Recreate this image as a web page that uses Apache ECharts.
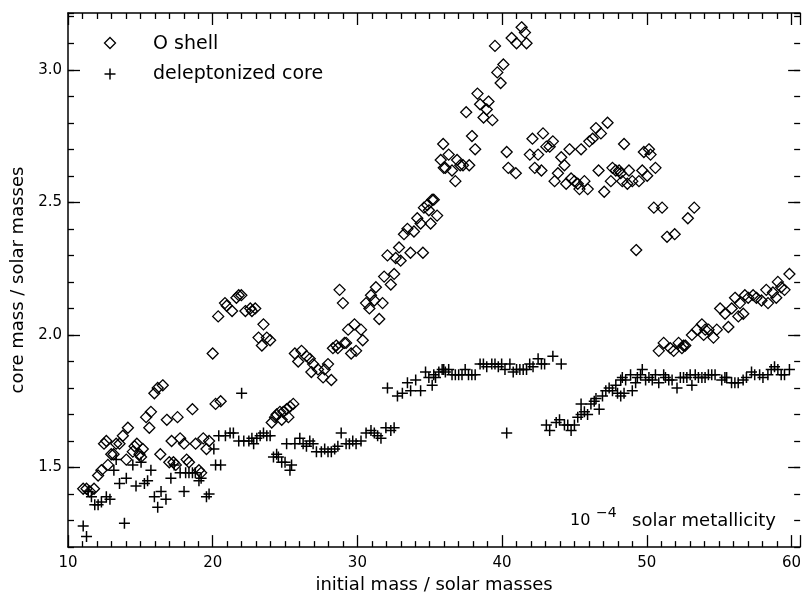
<!DOCTYPE html>
<html>
<head>
<meta charset="utf-8">
<script src="https://cdn.jsdelivr.net/npm/echarts@6/dist/echarts.min.js"></script>
<style>
html, body { margin: 0; padding: 0; background: #fff; }
#chart { width: 804px; height: 599px; }
</style>
</head>
<body>
<div id="chart"></div>
<script>
// O shell mass vs initial mass (diamonds)
var oShell = [
    [11.05,1.42],[11.28,1.42],[11.51,1.41],[11.8,1.42],[12.08,1.47],[12.31,1.49],[12.49,1.59],[12.65,1.60],
    [12.76,1.51],[12.99,1.55],[13.15,1.55],[13.33,1.59],[13.56,1.59],[13.79,1.62],[14.14,1.65],[14.03,1.53],
    [14.48,1.56],[14.6,1.58],[14.76,1.59],[14.94,1.55],[15.17,1.57],[15.05,1.54],[15.62,1.65],[15.4,1.69],
    [15.73,1.71],[15.97,1.78],[16.2,1.80],[16.55,1.81],[16.38,1.55],[16.83,1.68],[17.0,1.52],[17.16,1.60],
    [17.29,1.52],[17.45,1.51],[17.57,1.69],[17.75,1.61],[18.02,1.59],[18.2,1.53],[18.36,1.52],[18.6,1.72],
    [18.82,1.59],[19.05,1.49],[19.2,1.48],[19.35,1.61],[19.57,1.57],[19.75,1.60],[20.2,1.74],[20.55,1.75],
    [20.0,1.93],[20.38,2.07],[20.85,2.12],[20.97,2.11],[21.34,2.09],[21.64,2.14],[21.8,2.15],[21.98,2.15],
    [22.26,2.09],[22.6,2.10],[22.94,2.10],[22.71,2.09],[23.51,2.04],[23.17,1.99],[23.74,1.99],[23.97,1.98],
    [23.4,1.96],[24.08,1.67],[24.42,1.70],[24.65,1.71],[24.88,1.71],[25.11,1.72],[25.34,1.73],[25.57,1.74],
    [25.23,1.69],[24.31,1.69],[24.77,1.68],[25.68,1.93],[26.14,1.94],[25.91,1.90],[26.48,1.92],[26.71,1.91],
    [26.94,1.89],[27.28,1.87],[26.82,1.86],[27.74,1.87],[27.97,1.89],[27.63,1.84],[28.2,1.83],[28.31,1.95],
    [28.54,1.96],[28.65,1.95],[29.11,1.97],[29.57,1.93],[29.91,1.94],[30.37,1.98],[29.8,2.04],[29.36,2.02],
    [30.25,2.02],[29.22,1.97],[28.77,2.17],[29.0,2.12],[31.28,2.18],[30.94,2.15],[31.17,2.13],[30.6,2.12],
    [30.83,2.10],[31.74,2.12],[31.51,2.06],[31.85,2.22],[32.54,2.23],[32.31,2.19],[32.88,2.33],[32.08,2.30],
    [32.65,2.29],[32.99,2.28],[33.67,2.31],[34.53,2.31],[34.14,2.44],[34.37,2.42],[33.91,2.39],[33.46,2.40],
    [33.22,2.38],[35.17,2.51],[34.83,2.49],[34.94,2.47],[34.6,2.48],[35.28,2.51],[35.51,2.45],[35.06,2.42],
    [35.76,2.66],[35.97,2.63],[41.35,3.16],[41.58,3.14],[40.66,3.12],[41.0,3.10],[41.69,3.10],[39.51,3.09],
    [40.09,3.02],[39.67,2.99],[39.9,2.95],[38.3,2.91],[38.48,2.87],[39.06,2.88],[38.94,2.85],[38.72,2.82],
    [39.33,2.81],[37.52,2.84],[37.92,2.75],[38.14,2.70],[35.93,2.72],[36.31,2.68],[36.08,2.63],[36.54,2.62],
    [36.77,2.58],[36.89,2.66],[37.11,2.64],[37.3,2.64],[37.73,2.64],[40.32,2.69],[40.43,2.63],[40.95,2.61],
    [42.1,2.74],[42.83,2.76],[43.06,2.71],[43.29,2.71],[43.51,2.73],[41.92,2.68],[42.49,2.68],[42.26,2.63],
    [42.72,2.62],[44.09,2.67],[44.31,2.64],[44.66,2.70],[45.46,2.70],[43.86,2.61],[43.63,2.58],[44.43,2.57],
    [44.77,2.59],[45.0,2.58],[45.23,2.57],[45.35,2.55],[45.69,2.58],[45.92,2.55],[46.03,2.73],[46.26,2.74],
    [46.49,2.78],[46.83,2.76],[47.29,2.80],[46.67,2.62],[47.06,2.54],[47.52,2.58],[47.63,2.63],[47.86,2.62],
    [48.09,2.62],[48.43,2.72],[48.31,2.58],[49.8,2.69],[50.15,2.70],[50.26,2.68],[48.2,2.61],[48.77,2.62],
    [49.0,2.58],[48.66,2.57],[49.46,2.58],[49.69,2.62],[50.03,2.60],[50.6,2.63],[50.49,2.48],[51.06,2.48],
    [49.27,2.32],[51.4,2.37],[51.93,2.38],[52.84,2.44],[53.28,2.48],[50.83,1.94],[51.17,1.97],[51.63,1.95],
    [51.86,1.94],[52.2,1.97],[52.43,1.95],[52.54,1.96],[52.66,1.96],[53.12,2.00],[53.47,2.02],[53.81,2.04],
    [54.04,2.02],[54.27,2.02],[54.61,1.99],[53.93,2.00],[54.84,2.02],[55.64,2.03],[55.07,2.10],[55.41,2.08],
    [55.87,2.10],[56.1,2.14],[56.44,2.12],[56.67,2.08],[56.33,2.07],[56.78,2.15],[57.01,2.14],[57.35,2.15],
    [57.58,2.14],[57.93,2.13],[58.26,2.17],[58.38,2.12],[58.72,2.16],[59.06,2.20],[59.29,2.18],[58.95,2.14],
    [59.52,2.17],[59.86,2.23]
];

// deleptonized core mass vs initial mass (plus signs)
var core = [
    [11.05,1.28],[11.28,1.24],[11.4,1.41],[11.62,1.39],[11.85,1.36],[12.08,1.36],[12.31,1.37],[12.65,1.39],
    [12.9,1.38],[13.17,1.49],[13.33,1.53],[13.56,1.44],[13.9,1.29],[14.03,1.46],[14.48,1.51],[14.7,1.43],
    [15.05,1.52],[15.28,1.44],[15.5,1.45],[15.73,1.49],[15.97,1.39],[16.2,1.35],[16.43,1.41],[16.77,1.38],
    [17.11,1.46],[17.34,1.51],[17.75,1.48],[18.02,1.41],[18.13,1.48],[18.36,1.48],[18.6,1.48],[18.8,1.48],
    [19.05,1.45],[19.2,1.46],[19.57,1.39],[19.75,1.40],[20.08,1.57],[20.2,1.51],[20.55,1.51],[20.42,1.62],
    [20.88,1.62],[21.2,1.63],[21.43,1.63],[21.8,1.60],[22.15,1.60],[22.5,1.60],[22.0,1.78],[22.83,1.59],
    [23.05,1.61],[23.28,1.62],[23.51,1.63],[23.74,1.62],[23.97,1.62],[22.71,1.61],[24.2,1.54],[24.42,1.55],
    [24.54,1.54],[24.77,1.52],[25.0,1.52],[25.34,1.49],[25.45,1.51],[25.11,1.59],[25.68,1.59],[26.02,1.61],
    [26.25,1.59],[26.48,1.58],[26.71,1.60],[26.94,1.59],[27.17,1.56],[27.51,1.56],[27.74,1.57],[27.97,1.56],
    [28.2,1.56],[28.43,1.57],[28.65,1.58],[28.88,1.63],[29.22,1.59],[29.45,1.59],[29.68,1.60],[29.91,1.59],
    [30.25,1.60],[30.6,1.63],[30.94,1.64],[31.17,1.63],[31.4,1.62],[31.63,1.61],[31.97,1.65],[32.31,1.64],
    [32.54,1.65],[32.08,1.80],[32.77,1.77],[33.11,1.78],[33.46,1.82],[33.68,1.79],[34.03,1.83],[34.37,1.79],
    [34.71,1.86],[34.94,1.84],[35.28,1.85],[35.63,1.86],[35.97,1.87],[35.17,1.81],[35.4,1.84],[35.86,1.87],
    [36.08,1.86],[36.31,1.87],[36.54,1.85],[36.77,1.85],[37.0,1.85],[37.23,1.85],[37.45,1.87],[37.68,1.85],
    [37.91,1.85],[38.14,1.85],[38.48,1.89],[38.71,1.89],[38.94,1.88],[39.29,1.89],[39.51,1.89],[39.74,1.88],
    [39.97,1.89],[40.2,1.87],[40.54,1.89],[40.77,1.86],[41.0,1.87],[41.23,1.87],[41.46,1.87],[41.69,1.87],
    [41.91,1.89],[42.14,1.88],[42.49,1.91],[42.72,1.89],[42.94,1.89],[43.51,1.92],[44.09,1.89],[40.32,1.63],
    [43.06,1.66],[43.29,1.64],[43.74,1.67],[43.97,1.68],[44.31,1.66],[44.54,1.66],[44.77,1.64],[45.0,1.66],
    [45.23,1.69],[45.46,1.70],[45.69,1.71],[45.91,1.70],[45.46,1.74],[46.14,1.74],[46.37,1.75],[46.71,1.72],
    [46.49,1.76],[46.94,1.77],[47.17,1.79],[47.4,1.80],[47.63,1.79],[47.86,1.81],[48.31,1.84],[47.98,1.78],
    [48.2,1.77],[48.43,1.78],[49.0,1.79],[48.2,1.83],[48.54,1.83],[48.88,1.85],[49.23,1.82],[49.35,1.84],
    [49.57,1.85],[49.69,1.87],[49.92,1.83],[50.15,1.84],[50.38,1.83],[50.6,1.85],[50.83,1.82],[51.17,1.85],
    [51.29,1.84],[51.52,1.83],[51.75,1.83],[52.09,1.80],[52.32,1.84],[52.54,1.84],[52.77,1.84],[53.12,1.81],
    [53.0,1.85],[53.35,1.85],[53.57,1.84],[53.81,1.84],[54.03,1.84],[54.26,1.85],[54.49,1.85],[54.72,1.85],
    [55.18,1.83],[55.4,1.84],[55.52,1.84],[55.86,1.82],[56.09,1.82],[56.32,1.82],[56.66,1.83],[56.89,1.84],
    [57.24,1.86],[57.46,1.85],[57.8,1.85],[58.03,1.84],[58.37,1.85],[58.6,1.87],[58.83,1.88],[59.06,1.87],
    [59.29,1.85],[59.52,1.85],[59.86,1.87]
];

var xTicks = [10, 20, 30, 40, 50, 60];
var yTicks = [1.5, 2.0, 2.5, 3.0];
var seriesNames = ['O shell', 'deleptonized core'];

var chart = echarts.init(document.getElementById('chart'), null, { renderer: 'canvas' });

var FONT = '"DejaVu Sans", sans-serif';
var black = '#000';

function xAxisDef(pos, showLabel) {
    return {
        type: 'value',
        position: pos,
        min: 10,
        max: 60.6,
        interval: 10,
        axisLine: { show: true, onZero: false, lineStyle: { color: black, width: 1.5 } },
        axisTick: { show: true, inside: true, length: 12, lineStyle: { color: black, width: 1.3 } },
        minorTick: { show: true, splitNumber: 10, length: 6, lineStyle: { color: black, width: 1.3 } },
        axisLabel: {
            show: showLabel, color: black, fontSize: 15, fontFamily: FONT, margin: 9,
            formatter: function (v) { return xTicks.indexOf(v) >= 0 ? String(v) : ''; }
        },
        splitLine: { show: false },
        minorSplitLine: { show: false }
    };
}

function yMajor(pos, showLabel, showLine) {
    return {
        type: 'value',
        position: pos,
        min: 1.2,
        max: 3.214,
        interval: 0.1,
        axisLine: { show: showLine, onZero: false, lineStyle: { color: black, width: 1.5 } },
        axisTick: { show: true, inside: true, length: 12, customValues: yTicks, lineStyle: { color: black, width: 1.3 } },
        axisLabel: {
            show: showLabel, color: black, fontSize: 15, fontFamily: FONT, margin: 6,
            customValues: yTicks,
            formatter: function (v) { return v.toFixed(1); }
        },
        splitLine: { show: false }
    };
}

function yMinor(pos) {
    return {
        type: 'value',
        position: pos,
        min: 1.2,
        max: 3.214,
        interval: 0.1,
        axisLine: { show: false },
        axisTick: { show: true, inside: true, length: 6, lineStyle: { color: black, width: 1.3 } },
        axisLabel: { show: false },
        splitLine: { show: false }
    };
}

var xBottom = xAxisDef('bottom', true);
xBottom.name = 'initial mass / solar masses';
xBottom.nameLocation = 'middle';
xBottom.nameGap = 25;
xBottom.nameTextStyle = { color: black, fontSize: 18, fontFamily: FONT };

var yLeft = yMajor('left', true, true);
yLeft.name = 'core mass / solar masses';
yLeft.nameLocation = 'middle';
yLeft.nameGap = 41;
yLeft.nameTextStyle = { color: black, fontSize: 18, fontFamily: FONT };

var option = {
    backgroundColor: '#fff',
    animation: false,
    grid: { left: 68, right: 0, top: 13, bottom: 47, containLabel: false },
    xAxis: [xBottom, xAxisDef('top', false)],
    yAxis: [yLeft, yMinor('left'), yMajor('right', false, false), yMinor('right')],
    series: [
        {
            name: seriesNames[0],
            type: 'scatter',
            xAxisIndex: 0,
            yAxisIndex: 0,
            data: oShell,
            symbol: 'diamond',
            symbolSize: 11,
            itemStyle: { color: 'rgba(0,0,0,0)', borderColor: black, borderWidth: 1.3, opacity: 1 },
            emphasis: { disabled: true },
            silent: true
        },
        {
            name: seriesNames[1],
            type: 'scatter',
            xAxisIndex: 0,
            yAxisIndex: 0,
            data: core,
            symbol: 'path://M0,5L10,5M5,0L5,10',
            symbolSize: 11,
            itemStyle: { color: 'rgba(0,0,0,0)', borderColor: black, borderWidth: 1.5, opacity: 1 },
            emphasis: { disabled: true },
            silent: true
        }
    ],
    graphic: [
        // legend
        { type: 'polygon', shape: { points: [[110, 37.5], [115.5, 43], [110, 48.5], [104.5, 43]] },
          style: { fill: 'none', stroke: black, lineWidth: 1.3 } },
        { type: 'text', x: 153, y: 44, style: { text: seriesNames[0], fill: black, fontSize: 19, fontFamily: FONT, verticalAlign: 'middle' } },
        { type: 'line', shape: { x1: 104.5, y1: 74, x2: 115.5, y2: 74 }, style: { stroke: black, lineWidth: 1.5 } },
        { type: 'line', shape: { x1: 110, y1: 68.5, x2: 110, y2: 79.5 }, style: { stroke: black, lineWidth: 1.5 } },
        { type: 'text', x: 153, y: 74, style: { text: seriesNames[1], fill: black, fontSize: 19, fontFamily: FONT, verticalAlign: 'middle' } },
        // metallicity note
        { type: 'text', x: 570, y: 521, style: { text: '10', fill: black, fontSize: 16, fontFamily: FONT, verticalAlign: 'middle' } },
        { type: 'text', x: 596, y: 513, style: { text: '\u22124', fill: black, fontSize: 14, fontFamily: FONT, verticalAlign: 'middle' } },
        { type: 'text', x: 632, y: 521, style: { text: 'solar metallicity', fill: black, fontSize: 18, fontFamily: FONT, verticalAlign: 'middle' } }
    ]
};

chart.setOption(option);
</script>
</body>
</html>
